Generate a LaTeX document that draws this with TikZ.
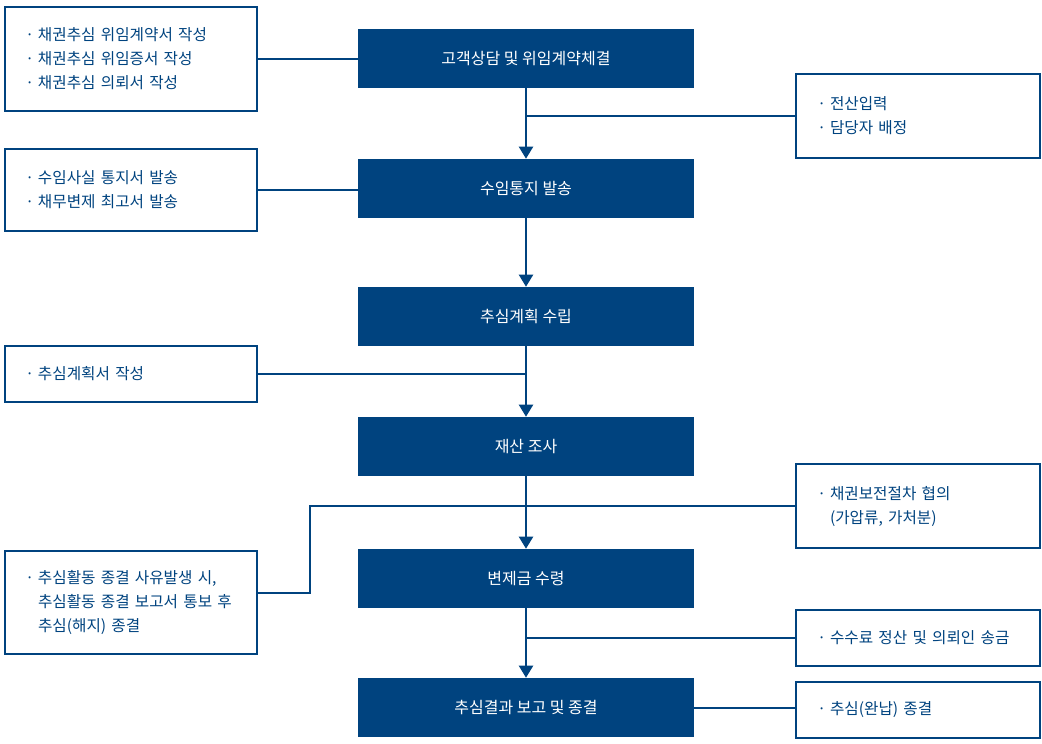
\documentclass[tikz,border=0pt]{standalone}
\usepackage{fontspec}
\setmainfont{Noto Sans CJK KR}
\usetikzlibrary{arrows.meta}

\newcommand{\itemdot}{\makebox[7.5pt][l]{\hspace*{-2pt}·}}
\newcommand{\itemgap}{\hspace*{7.5pt}}

\begin{document}
\begin{tikzpicture}[x=0.75pt,y=-0.75pt,
  stepbox/.style={fill=kBlue,text=white,minimum width=252pt,minimum height=44.25pt,
    inner sep=0pt,font=\fontsize{12}{14}\selectfont},
  notebox/.style={draw=kBlue,line width=1.5pt,text=kBlue,align=left,
    inner xsep=17.25pt,inner ysep=0pt,text width=154.5pt,minimum height=#1,
    font=\fontsize{11.75}{18}\selectfont},
  sidebox/.style={notebox=#1,inner xsep=18pt,text width=147pt},
  link/.style={draw=kBlue,line width=1.5pt},
  flow/.style={link,-{Triangle[width=10.5pt,length=9pt]}}]
  \definecolor{kBlue}{HTML}{00437F}
  \useasboundingbox (0,0) rectangle (1042,743);

  % main steps
  \node[stepbox] (s1) at (526,58.5) {고객상담 및 위임계약체결};
  \node[stepbox] (s2) at (526,188.5) {수임통지 발송};
  \node[stepbox] (s3) at (526,316.5) {추심계획 수립};
  \node[stepbox] (s4) at (526,446.5) {재산 조사};
  \node[stepbox] (s5) at (526,578.5) {변제금 수령};
  \node[stepbox] (s6) at (526,707.5) {추심결과 보고 및 종결};

  % notes left
  \node[notebox=78pt] (n1) at (131,59) {\itemdot 채권추심 위임계약서 작성\\ \itemdot 채권추심 위임증서 작성\\ \itemdot 채권추심 의뢰서 작성};
  \node[notebox=61.5pt] (n2) at (131,190) {\itemdot 수임사실 통지서 발송\\ \itemdot 채무변제 최고서 발송};
  \node[notebox=42pt] (n3) at (131,374) {\itemdot 추심계획서 작성};
  \node[notebox=77.25pt] (n4) at (131,602.5) {\itemdot 추심활동 종결 사유발생 시,\\ \itemgap 추심활동 종결 보고서 통보 후\\ \itemgap 추심(해지) 종결};

  % notes right
  \node[sidebox=63pt] (m1) at (918,116) {\itemdot 전산입력\\ \itemdot 담당자 배정};
  \node[sidebox=63pt] (m2) at (918,506) {\itemdot 채권보전절차 협의\\ \itemgap (가압류, 가처분)};
  \node[sidebox=42pt] (m3) at (918,638) {\itemdot 수수료 정산 및 의뢰인 송금};
  \node[sidebox=42pt] (m4) at (918,710) {\itemdot 추심(완납) 종결};

  % flow
  \draw[flow] (s1.south) -- (s2.north);
  \draw[flow] (s2.south) -- (s3.north);
  \draw[flow] (s3.south) -- (s4.north);
  \draw[flow] (s4.south) -- (s5.north);
  \draw[flow] (s5.south) -- (s6.north);

  % side links
  \coordinate (turn) at (310,593);
  \draw[link] (n1.east) -- (n1.east -| s1.west);
  \draw[link] (m1.west) -- (m1.west -| s1.south);
  \draw[link] (n2.east) -- (n2.east -| s2.west);
  \draw[link] (n3.east) -- (n3.east -| s3.south);
  \draw[link] (m2.west) -| (turn) -- (turn -| n4.east);
  \draw[link] (m3.west) -- (m3.west -| s5.south);
  \draw[link] (s6.east) -- (s6.east -| m4.west);
\end{tikzpicture}
\end{document}
